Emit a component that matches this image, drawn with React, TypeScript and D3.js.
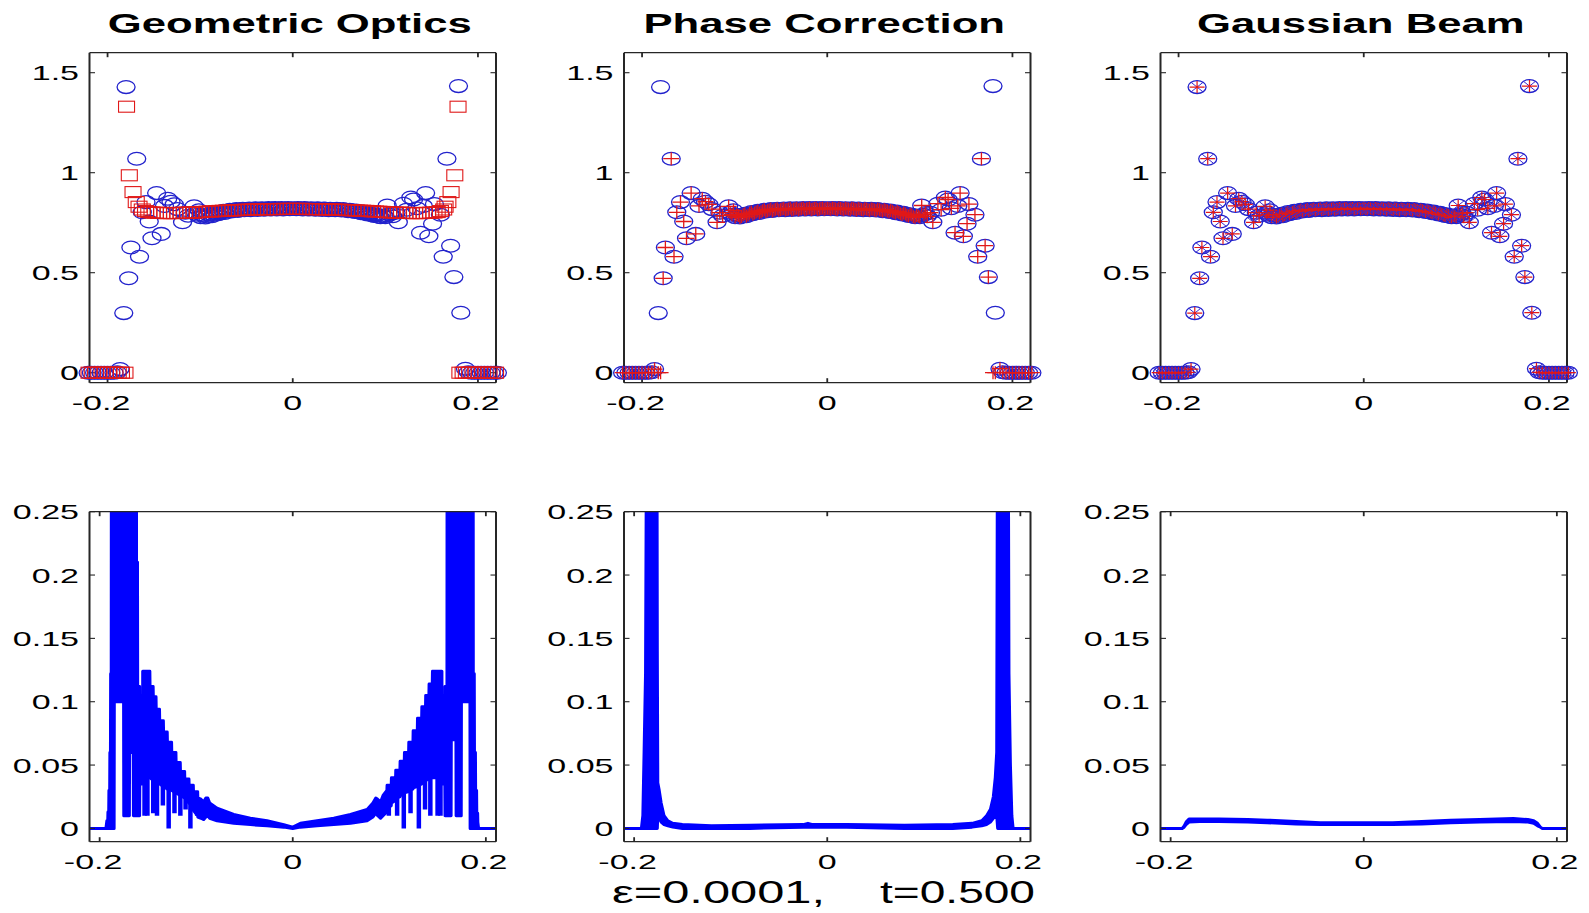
import React from 'react';
import * as d3 from 'd3';

const W = 1589;
const H = 913;

// ---------- text ----------
const titles = ['Geometric Optics', 'Phase Correction', 'Gaussian Beam'];
const footerLeft = 'ε=0.0001,';
const footerRight = 't=0.500';
const xTicks = [-0.2, 0, 0.2];
const xTickLabels = ['-0.2', '0', '0.2'];
const topYTicks = [0, 0.5, 1, 1.5];
const topYTickLabels = ['0', '0.5', '1', '1.5'];
const botYTicks = [0, 0.05, 0.1, 0.15, 0.2, 0.25];
const botYTickLabels = ['0', '0.05', '0.1', '0.15', '0.2', '0.25'];

// ---------- top row: amplitude samples (blue circles = exact) ----------
const exactPoints: [number, number][] = [
  [-0.2210, 0], [-0.2175, 0], [-0.2140, 0], [-0.2105, 0], [-0.2070, 0], [-0.2035, 0], [-0.2000, 0],
  [-0.1965, 0], [-0.1930, 0], [-0.1895, 0.002], [-0.1865, 0.018],
  [-0.1825, 0.298], [-0.1800, 1.428], [-0.1772, 0.472], [-0.1748, 0.626], [-0.1685, 1.070],
  [-0.1655, 0.580], [-0.1625, 0.802], [-0.1585, 0.853], [-0.1550, 0.756], [-0.1520, 0.672],
  [-0.1470, 0.898], [-0.1420, 0.694], [-0.1385, 0.834], [-0.1350, 0.870], [-0.1315, 0.855],
  [-0.1280, 0.842], [-0.1245, 0.818], [-0.1190, 0.752], [-0.1160, 0.800], [-0.1130, 0.785],
  [-0.1065, 0.832], [-0.1030, 0.790], [-0.0995, 0.778], [-0.0960, 0.786], [-0.0925, 0.781],
  [-0.0890, 0.795], [-0.0855, 0.789], [-0.0820, 0.803], [-0.0785, 0.798], [-0.0750, 0.809],
  [-0.0715, 0.805], [-0.0680, 0.815], [-0.0645, 0.810], [-0.0610, 0.818], [-0.0575, 0.813],
  [-0.0540, 0.820], [-0.0505, 0.815], [-0.0470, 0.821], [-0.0435, 0.816], [-0.0400, 0.822],
  [-0.0365, 0.817], [-0.0330, 0.822], [-0.0295, 0.818], [-0.0260, 0.823], [-0.0225, 0.818],
  [-0.0190, 0.823], [-0.0155, 0.819], [-0.0120, 0.823], [-0.0085, 0.819], [-0.0050, 0.823],
  [-0.0015, 0.820], [0.0020, 0.820], [0.0055, 0.823], [0.0090, 0.819], [0.0125, 0.823],
  [0.0160, 0.818], [0.0195, 0.822], [0.0230, 0.818], [0.0265, 0.822], [0.0300, 0.817],
  [0.0335, 0.821], [0.0370, 0.816], [0.0405, 0.820], [0.0440, 0.815], [0.0475, 0.819],
  [0.0510, 0.814], [0.0545, 0.818], [0.0580, 0.812], [0.0615, 0.815], [0.0650, 0.808],
  [0.0685, 0.811], [0.0720, 0.802], [0.0755, 0.806], [0.0790, 0.795], [0.0825, 0.799],
  [0.0860, 0.787], [0.0895, 0.792], [0.0930, 0.780], [0.0965, 0.786], [0.1000, 0.778],
  [0.1020, 0.836], [0.1045, 0.790], [0.1080, 0.782], [0.1115, 0.800], [0.1140, 0.752],
  [0.1195, 0.845], [0.1230, 0.815], [0.1275, 0.876], [0.1305, 0.866], [0.1340, 0.822],
  [0.1380, 0.700], [0.1410, 0.834], [0.1435, 0.898], [0.1470, 0.682], [0.1510, 0.745],
  [0.1530, 0.843], [0.1595, 0.790], [0.1625, 0.580], [0.1665, 1.070], [0.1705, 0.635],
  [0.1740, 0.478], [0.1790, 1.433], [0.1815, 0.300], [0.1865, 0.020], [0.1895, 0.002],
  [0.1930, 0], [0.1965, 0], [0.2000, 0], [0.2035, 0], [0.2070, 0], [0.2105, 0], [0.2140, 0],
  [0.2175, 0], [0.2210, 0],
];

// further exact samples inside the dense central band
const exactBandExtra: [number, number][] = [
  [-0.1048, 0.800], [-0.1013, 0.812], [-0.0978, 0.790], [-0.0943, 0.776], [-0.0908, 0.790],
  [-0.0873, 0.782], [-0.0838, 0.797], [-0.0803, 0.792], [-0.0768, 0.804], [-0.0733, 0.799],
  [-0.0698, 0.810], [-0.0663, 0.806], [-0.0628, 0.814], [-0.0593, 0.809], [-0.0558, 0.817],
  [-0.0523, 0.812], [-0.0488, 0.818], [-0.0453, 0.813], [-0.0418, 0.819], [-0.0383, 0.814],
  [-0.0348, 0.820], [-0.0313, 0.815], [-0.0278, 0.820], [-0.0243, 0.816], [-0.0208, 0.821],
  [-0.0173, 0.816], [-0.0138, 0.821], [-0.0103, 0.816], [-0.0068, 0.821], [-0.0033, 0.817],
  [0.0003, 0.822], [0.0038, 0.817], [0.0073, 0.821], [0.0108, 0.816], [0.0143, 0.821],
  [0.0178, 0.816], [0.0213, 0.820], [0.0248, 0.815], [0.0283, 0.820], [0.0318, 0.814],
  [0.0353, 0.819], [0.0388, 0.813], [0.0423, 0.818], [0.0458, 0.812], [0.0493, 0.817],
  [0.0528, 0.811], [0.0563, 0.815], [0.0598, 0.808], [0.0633, 0.812], [0.0668, 0.804],
  [0.0703, 0.807], [0.0738, 0.798], [0.0773, 0.801], [0.0808, 0.791], [0.0843, 0.794],
  [0.0878, 0.784], [0.0913, 0.788], [0.0948, 0.777], [0.0983, 0.782], [0.1063, 0.798],
];

// red squares: geometric optics amplitude
const goPoints: [number, number][] = [
  [-0.2200, 0], [-0.2165, 0], [-0.2130, 0], [-0.2095, 0], [-0.2060, 0], [-0.2025, 0], [-0.1990, 0],
  [-0.1955, 0], [-0.1920, 0], [-0.1885, 0], [-0.1850, 0], [-0.1812, 0],
  [-0.1795, 1.330], [-0.1765, 0.987], [-0.1725, 0.903], [-0.1690, 0.853], [-0.1660, 0.830],
  [-0.1625, 0.816], [-0.1590, 0.808], [-0.1555, 0.803], [-0.1520, 0.801], [-0.1485, 0.800],
  [-0.1450, 0.799], [-0.1415, 0.799], [-0.1380, 0.798], [-0.1345, 0.798], [-0.1310, 0.798],
  [-0.1275, 0.798], [-0.1240, 0.799], [-0.1205, 0.799], [-0.1170, 0.800], [-0.1135, 0.800],
  [-0.1100, 0.801], [-0.1065, 0.801], [-0.1030, 0.802], [-0.0995, 0.803], [-0.0960, 0.804],
  [-0.0925, 0.805], [-0.0890, 0.806], [-0.0855, 0.807], [-0.0820, 0.808], [-0.0785, 0.809],
  [-0.0750, 0.810], [-0.0715, 0.810], [-0.0680, 0.811], [-0.0645, 0.812], [-0.0610, 0.813],
  [-0.0575, 0.813], [-0.0540, 0.814], [-0.0505, 0.815], [-0.0470, 0.815], [-0.0435, 0.816],
  [-0.0400, 0.816], [-0.0365, 0.817], [-0.0330, 0.817], [-0.0295, 0.817], [-0.0260, 0.818],
  [-0.0225, 0.818], [-0.0190, 0.818], [-0.0155, 0.818], [-0.0120, 0.819], [-0.0085, 0.819],
  [-0.0050, 0.819], [-0.0015, 0.819], [0.0020, 0.819], [0.0055, 0.819], [0.0090, 0.819],
  [0.0125, 0.819], [0.0160, 0.818], [0.0195, 0.818], [0.0230, 0.818], [0.0265, 0.818],
  [0.0300, 0.817], [0.0335, 0.817], [0.0370, 0.817], [0.0405, 0.816], [0.0440, 0.816],
  [0.0475, 0.815], [0.0510, 0.815], [0.0545, 0.814], [0.0580, 0.813], [0.0615, 0.813],
  [0.0650, 0.812], [0.0685, 0.811], [0.0720, 0.810], [0.0755, 0.810], [0.0790, 0.809],
  [0.0825, 0.808], [0.0860, 0.807], [0.0895, 0.806], [0.0930, 0.805], [0.0965, 0.804],
  [0.1000, 0.803], [0.1035, 0.802], [0.1070, 0.801], [0.1105, 0.801], [0.1140, 0.800],
  [0.1175, 0.800], [0.1210, 0.799], [0.1245, 0.799], [0.1280, 0.798], [0.1315, 0.798],
  [0.1350, 0.798], [0.1385, 0.798], [0.1420, 0.799], [0.1455, 0.799], [0.1490, 0.800],
  [0.1525, 0.801], [0.1560, 0.803], [0.1595, 0.808], [0.1630, 0.816], [0.1645, 0.830],
  [0.1675, 0.853], [0.1710, 0.903], [0.1750, 0.987], [0.1785, 1.330],
  [0.1805, 0], [0.1840, 0], [0.1875, 0], [0.1910, 0], [0.1945, 0], [0.1980, 0], [0.2015, 0],
  [0.2050, 0], [0.2085, 0], [0.2120, 0], [0.2155, 0], [0.2190, 0],
];

const exactAll: [number, number][] = exactPoints.concat(exactBandExtra);

// red plus: phase correction agrees with exact except these samples, which are 0
const pcZeroAt = [-0.1825, -0.1800, 0.1790, 0.1815];
const pcPoints: [number, number][] = exactAll.map(([x, y]) =>
  pcZeroAt.includes(x) ? [x, 0] : [x, y]
);
// red asterisks: Gaussian beam agrees with exact everywhere
const gbPoints: [number, number][] = exactAll;

// ---------- bottom row: error curves as band [x, lower, upper] plus deep dips [x, bottom, top] ----------
const goBand: [number, number, number][] = [
  [-0.2105, 0, 0], [-0.1935, 0, 0], [-0.1925, 0, 0.006], [-0.1916, 0, 0.006], [-0.1914, 0, 0.013],
  [-0.1906, 0, 0.013], [-0.1904, 0, 0.030], [-0.1896, 0, 0.030], [-0.1894, 0, 0.060], [-0.1888, 0, 0.060],
  [-0.1886, 0, 0.122], [-0.1880, 0, 0.122], [-0.1878, 0, 0.40], [-0.1850, 0, 0.40],
  [-0.1848, 0.100, 0.40], [-0.1752, 0.100, 0.40], [-0.1750, 0.010, 0.40], [-0.1692, 0.010, 0.40],
  [-0.1690, 0.060, 0.40], [-0.1652, 0.060, 0.40], [-0.1650, 0.010, 0.40], [-0.1620, 0.010, 0.40],
  [-0.1618, 0.010, 0.210], [-0.1608, 0.010, 0.210], [-0.1606, 0.010, 0.112], [-0.1586, 0.010, 0.112],
  [-0.1584, 0.035, 0.050], [-0.1556, 0.035, 0.050], [-0.1554, 0.040, 0.124], [-0.1480, 0.040, 0.124],
  [-0.1478, 0.040, 0.112], [-0.1446, 0.038, 0.112], [-0.1444, 0.038, 0.104], [-0.1416, 0.036, 0.104],
  [-0.1414, 0.036, 0.094], [-0.1380, 0.035, 0.094], [-0.1378, 0.035, 0.085], [-0.1340, 0.033, 0.085],
  [-0.1338, 0.033, 0.076], [-0.1300, 0.031, 0.076], [-0.1298, 0.031, 0.068], [-0.1255, 0.030, 0.068],
  [-0.1253, 0.030, 0.060], [-0.1210, 0.028, 0.060], [-0.1208, 0.028, 0.052], [-0.1165, 0.026, 0.052],
  [-0.1163, 0.026, 0.045], [-0.1120, 0.024, 0.045], [-0.1118, 0.024, 0.039], [-0.1075, 0.020, 0.039],
  [-0.1073, 0.020, 0.034], [-0.1030, 0.016, 0.034], [-0.1028, 0.014, 0.029], [-0.0985, 0.010, 0.029],
  [-0.0983, 0.009, 0.024], [-0.0950, 0.008, 0.023], [-0.0922, 0.007, 0.021], [-0.0900, 0.009, 0.024],
  [-0.0880, 0.010, 0.024], [-0.0860, 0.008, 0.020], [-0.0784, 0.006, 0.016], [-0.0611, 0.004, 0.011],
  [-0.0439, 0.003, 0.008], [-0.0266, 0.002, 0.006], [-0.0093, 0.001, 0.003], [0.0000, 0.000, 0.001],
  [0.0079, 0.001, 0.004], [0.0252, 0.002, 0.006], [0.0425, 0.003, 0.008], [0.0598, 0.004, 0.011],
  [0.0770, 0.006, 0.015], [0.0830, 0.009, 0.020], [0.0860, 0.012, 0.024], [0.0880, 0.010, 0.023],
  [0.0910, 0.008, 0.021], [0.0935, 0.010, 0.026], [0.0975, 0.013, 0.030], [0.0977, 0.016, 0.034],
  [0.1020, 0.018, 0.034], [0.1022, 0.020, 0.040], [0.1065, 0.022, 0.040], [0.1067, 0.024, 0.046],
  [0.1110, 0.025, 0.046], [0.1112, 0.026, 0.053], [0.1155, 0.027, 0.053], [0.1157, 0.028, 0.060],
  [0.1200, 0.029, 0.060], [0.1202, 0.030, 0.068], [0.1245, 0.031, 0.068], [0.1247, 0.032, 0.077],
  [0.1290, 0.033, 0.077], [0.1292, 0.034, 0.087], [0.1335, 0.035, 0.087], [0.1337, 0.036, 0.096],
  [0.1375, 0.037, 0.096], [0.1377, 0.038, 0.105], [0.1410, 0.039, 0.105], [0.1412, 0.040, 0.114],
  [0.1445, 0.040, 0.114], [0.1447, 0.040, 0.124], [0.1545, 0.040, 0.124], [0.1547, 0.035, 0.050],
  [0.1575, 0.035, 0.050], [0.1577, 0.010, 0.112], [0.1597, 0.010, 0.112], [0.1599, 0.010, 0.40],
  [0.1640, 0.010, 0.40], [0.1642, 0.070, 0.40], [0.1690, 0.070, 0.40], [0.1692, 0.010, 0.40],
  [0.1745, 0.010, 0.40], [0.1747, 0.100, 0.40], [0.1835, 0.100, 0.40], [0.1837, 0, 0.40],
  [0.1868, 0, 0.40], [0.1870, 0, 0.122], [0.1880, 0, 0.122], [0.1882, 0, 0.060], [0.1892, 0, 0.060],
  [0.1894, 0, 0.030], [0.1904, 0, 0.030], [0.1906, 0, 0.012], [0.1915, 0, 0.012], [0.1917, 0, 0.005],
  [0.1925, 0, 0], [0.2105, 0, 0],
];
const goDips: [number, number, number][] = [
  [-0.1535, 0.010, 0.05], [-0.1505, 0.010, 0.05], [-0.1445, 0.012, 0.045], [-0.1406, 0.010, 0.04],
  [-0.1345, 0.018, 0.04], [-0.1285, 0.000, 0.035], [-0.1225, 0.012, 0.035], [-0.1164, 0.010, 0.03],
  [-0.1110, 0.015, 0.03], [-0.1060, 0.000, 0.025], [-0.0990, 0.010, 0.02],
  [0.0995, 0.010, 0.03], [0.1081, 0.010, 0.035], [0.1150, 0.000, 0.04], [0.1220, 0.012, 0.04],
  [0.1306, 0.000, 0.045], [0.1370, 0.015, 0.045], [0.1425, 0.010, 0.05], [0.1500, 0.010, 0.05],
  [0.1530, 0.010, 0.05],
];

const pcBand: [number, number, number][] = [
  [-0.2105, 0, 0], [-0.1925, 0, 0], [-0.1910, 0, 0.010], [-0.1897, 0, 0.060], [-0.1882, 0, 0.122],
  [-0.1868, 0, 0.40], [-0.1815, 0, 0.40], [-0.1812, 0.140, 0.40], [-0.1803, 0.140, 0.40],
  [-0.1800, 0.000, 0.40], [-0.1765, 0.000, 0.40], [-0.1760, 0.000, 0.140], [-0.1755, 0.010, 0.036],
  [-0.1740, 0.008, 0.030], [-0.1720, 0.005, 0.020], [-0.1690, 0.003, 0.010], [-0.1650, 0.002, 0.006],
  [-0.1600, 0.001, 0.004], [-0.1500, 0.000, 0.003], [-0.1200, 0.000, 0.002], [-0.0800, 0.000, 0.0025],
  [-0.0250, 0.001, 0.003], [-0.0200, 0.001, 0.004], [-0.0150, 0.001, 0.003], [0.0200, 0.001, 0.003],
  [0.0800, 0.000, 0.0025], [0.1300, 0.000, 0.003], [0.1500, 0.001, 0.004], [0.1600, 0.002, 0.006],
  [0.1650, 0.003, 0.010], [0.1690, 0.005, 0.015], [0.1720, 0.008, 0.025], [0.1740, 0.010, 0.040],
  [0.1755, 0.010, 0.060], [0.1765, 0.000, 0.40], [0.1795, 0.000, 0.40], [0.1798, 0.140, 0.40],
  [0.1808, 0.140, 0.40], [0.1811, 0.000, 0.40], [0.1872, 0.000, 0.40], [0.1882, 0.000, 0.122],
  [0.1897, 0.000, 0.050], [0.1912, 0, 0.010], [0.1925, 0, 0], [0.2105, 0, 0],
];
const pcDips: [number, number, number][] = [];

const gbBand: [number, number, number][] = [
  [-0.2105, 0, 0], [-0.1880, 0, 0], [-0.1860, 0.001, 0.002], [-0.1840, 0.003, 0.005],
  [-0.1810, 0.005, 0.0075], [-0.1700, 0.0055, 0.0075], [-0.1500, 0.0055, 0.0075],
  [-0.1200, 0.005, 0.007], [-0.1000, 0.0045, 0.0065], [-0.0700, 0.0035, 0.0055],
  [-0.0450, 0.003, 0.0045], [0.0000, 0.003, 0.0045], [0.0300, 0.003, 0.0045],
  [0.0600, 0.0035, 0.0055], [0.0900, 0.0045, 0.0065], [0.1200, 0.005, 0.007],
  [0.1550, 0.0055, 0.0078], [0.1700, 0.005, 0.007], [0.1760, 0.004, 0.006],
  [0.1800, 0.002, 0.004], [0.1830, 0.001, 0.001], [0.1850, 0, 0], [0.2105, 0, 0],
];
const gbDips: [number, number, number][] = [];

// ---------- styling ----------
const FONT = '"Liberation Sans", Arial, Helvetica, sans-serif';
const BLUE_MARK = '#2222cc';
const RED = '#e01818';
const LINE_BLUE = '#0000ff';
const AXIS = '#262626';
const SX = 1.62; // horizontal stretch of the original figure

const colLeft = [89.5, 624, 1160.5];
const PW = 406.5;
const PH = 330;
const rowTop = [52.7, 511.7];

function Label(props: { x: number; y: number; anchor: string; text: string; size: number; weight?: string; sx?: number }) {
  const { x, y, anchor, text, size, weight, sx } = props;
  return (
    <text
      transform={`translate(${x},${y}) scale(${sx ?? SX},1)`}
      textAnchor={anchor as any}
      fontSize={size}
      fontFamily={FONT}
      fontWeight={weight ?? 'normal'}
      fill="#000"
    >
      {text}
    </text>
  );
}

function Frame(props: {
  L: number; T: number;
  x: d3.ScaleLinear<number, number>; y: d3.ScaleLinear<number, number>;
  yTicks: number[]; yLabels: string[];
}) {
  const { L, T, x, y, yTicks, yLabels } = props;
  const R = L + PW;
  const B = T + PH;
  return (
    <g>
      <line x1={L} x2={R} y1={T} y2={T} stroke={AXIS} strokeWidth={1.3} />
      <line x1={L} x2={R} y1={B} y2={B} stroke={AXIS} strokeWidth={1.3} />
      <line x1={L} x2={L} y1={T} y2={B} stroke={AXIS} strokeWidth={2} />
      <line x1={R} x2={R} y1={T} y2={B} stroke={AXIS} strokeWidth={2} />
      {xTicks.map((t, i) => (
        <g key={'xt' + i}>
          <line x1={x(t)} x2={x(t)} y1={B} y2={B - 4.5} stroke={AXIS} strokeWidth={1.8} />
          <line x1={x(t)} x2={x(t)} y1={T} y2={T + 4.5} stroke={AXIS} strokeWidth={1.8} />
          <Label x={x(t) - (t < 0 ? 6.5 : t > 0 ? 2 : 0)} y={B + 27} anchor="middle" text={xTickLabels[i]} size={21} />
        </g>
      ))}
      {yTicks.map((t, i) => (
        <g key={'yt' + i}>
          <line x1={L} x2={L + 5.5} y1={y(t)} y2={y(t)} stroke={AXIS} strokeWidth={1.1} />
          <line x1={R} x2={R - 5.5} y1={y(t)} y2={y(t)} stroke={AXIS} strokeWidth={1.1} />
          <Label x={L - 10.5} y={y(t) + 7.5} anchor="end" text={yLabels[i]} size={21} />
        </g>
      ))}
    </g>
  );
}

export default function App() {
  const topSeries = [goPoints, pcPoints, gbPoints];
  const bands = [goBand, pcBand, gbBand];
  const dips = [goDips, pcDips, gbDips];

  return (
    <svg
      width={W}
      height={H}
      viewBox={`0 0 ${W} ${H}`}
      style={{ position: 'absolute', left: 0, top: 0, display: 'block' }}
    >
      <rect x={0} y={0} width={W} height={H} fill="#fff" />
      <defs>
        {colLeft.map((L, i) => (
          <clipPath id={`clipb${i}`} key={i}>
            <rect x={L} y={rowTop[1]} width={PW} height={PH} />
          </clipPath>
        ))}
      </defs>

      {colLeft.map((L, i) => {
        const T = rowTop[0];
        const x = d3.scaleLinear().domain([-0.2195, 0.2195]).range([L, L + PW]);
        const y = d3.scaleLinear().domain([-0.05, 1.6]).range([T + PH, T]);
        const red = topSeries[i];
        return (
          <g key={'top' + i}>
            <Label x={L + PW / 2 - 3} y={33} anchor="middle" text={titles[i]} size={28} weight="bold" sx={1.56} />
            <Frame L={L} T={T} x={x} y={y} yTicks={topYTicks} yLabels={topYTickLabels} />
            {exactAll.map(([px, py], k) => (
              <ellipse key={'c' + k} cx={x(px)} cy={y(py)} rx={9} ry={6.4} fill="none" stroke={BLUE_MARK} strokeWidth={1.3} />
            ))}
            {red.map(([px, py], k) => {
              const cx = x(px);
              const cy = y(py);
              if (i === 0) {
                return <rect key={'r' + k} x={cx - 8} y={cy - 5.5} width={16} height={11} fill="none" stroke={RED} strokeWidth={1.1} />;
              }
              if (i === 1) {
                return (
                  <path key={'r' + k} d={`M${cx - 8},${cy}H${cx + 8}M${cx},${cy - 6.5}V${cy + 6.5}`} stroke={RED} strokeWidth={1.3} fill="none" />
                );
              }
              return (
                <g key={'r' + k}>
                  <path d={`M${cx - 6},${cy - 4.8}L${cx + 6},${cy + 4.8}M${cx - 6},${cy + 4.8}L${cx + 6},${cy - 4.8}`} stroke="#3a2ad0" strokeWidth={1} fill="none" />
                  <path d={`M${cx - 7.5},${cy}H${cx + 7.5}M${cx},${cy - 6}V${cy + 6}`} stroke={RED} strokeWidth={1.2} fill="none" />
                  <circle cx={cx} cy={cy} r={1.3} fill={RED} />
                </g>
              );
            })}
          </g>
        );
      })}

      {colLeft.map((L, i) => {
        const T = rowTop[1];
        const x = d3.scaleLinear().domain([-0.2105, 0.2105]).range([L, L + PW]);
        const y = d3.scaleLinear().domain([-0.0105, 0.25]).range([T + PH, T]);
        const area = d3
          .area<[number, number, number]>()
          .x((d) => x(d[0]))
          .y0((d) => y(d[1]))
          .y1((d) => y(d[2]));
        return (
          <g key={'bot' + i}>
            <g clipPath={`url(#clipb${i})`}>
              <path d={area(bands[i]) ?? ''} fill={LINE_BLUE} stroke={LINE_BLUE} strokeWidth={3} strokeLinejoin="round" />
              {dips[i].map(([dx, lo, hi], k) => (
                <line key={k} x1={x(dx)} x2={x(dx)} y1={y(lo)} y2={y(hi)} stroke={LINE_BLUE} strokeWidth={4.5} />
              ))}
            </g>
            <Frame L={L} T={T} x={x} y={y} yTicks={botYTicks} yLabels={botYTickLabels} />
          </g>
        );
      })}

      <text x={612} y={903} fontSize={31} fontFamily={FONT} textLength={213} lengthAdjust="spacingAndGlyphs" fill="#000">
        {footerLeft}
      </text>
      <text x={880} y={903} fontSize={31} fontFamily={FONT} textLength={155} lengthAdjust="spacingAndGlyphs" fill="#000">
        {footerRight}
      </text>
    </svg>
  );
}
